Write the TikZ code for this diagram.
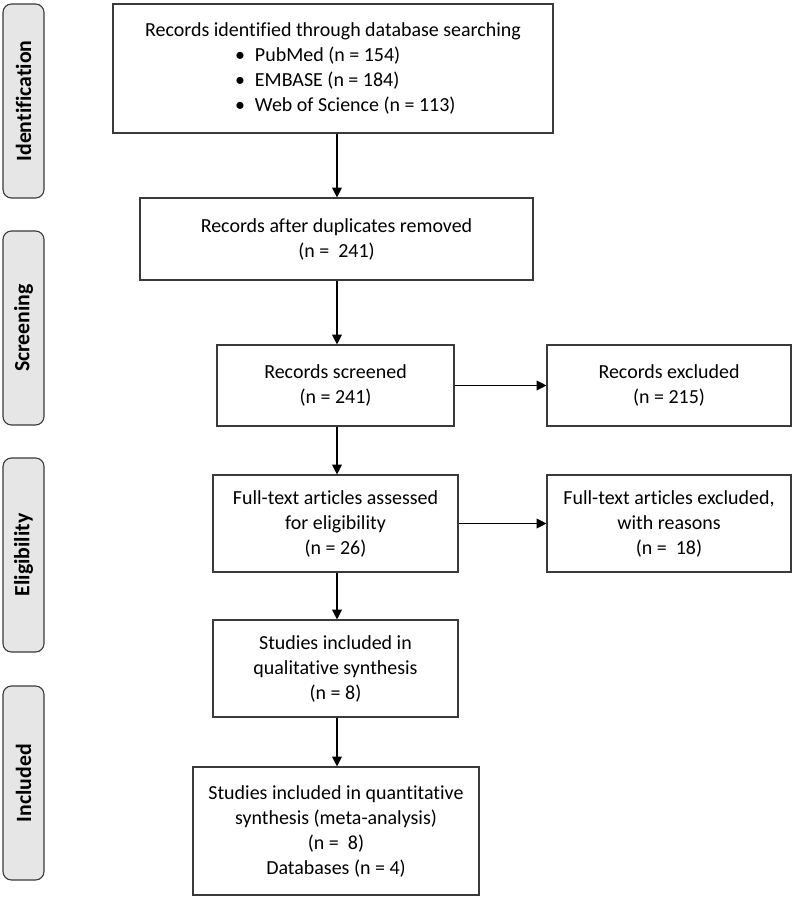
\documentclass[tikz,border=0pt]{standalone}
\usepackage{fontspec}
\setmainfont{Carlito}[Ligatures={NoCommon}]
\usepackage{tikz}
\usetikzlibrary{arrows.meta}

\definecolor{tabgray}{HTML}{E6E6E6}
\definecolor{linegray}{HTML}{3A3A3A}

\newcommand{\bitem}[1]{\hspace*{0.55cm}\makebox[5.45cm][l]{\makebox[0.5cm][l]{\textbullet}#1}}

\tikzset{
	box/.style={draw=linegray, line width=0.8pt, align=center, inner sep=0pt,
		font=\fontsize{14.2}{17.8}\selectfont},
	phase/.style={draw=linegray, fill=tabgray, line width=0.8pt, rounded corners=6pt,
		rotate=90, minimum width=4.85cm, minimum height=1.025cm, inner sep=0pt,
		font=\fontsize{15.5}{18}\selectfont\bfseries},
	arr/.style={-{Triangle[length=7pt,width=7pt]}, line width=0.8pt, black}
}

\begin{document}
\begin{tikzpicture}
	\useasboundingbox (0,0) rectangle (19.925,-22.5);
	\coordinate (col) at (8.425,0);
	% phase tabs on the left
	\node[phase] (tabid) at (0.5875,-2.525) {Identification};
	\node[phase] (tabsc) at (0.5875,-8.2) {Screening};
	\node[phase] (tabel) at (0.5875,-13.875) {Eligibility};
	\node[phase] (tabin) at (0.5875,-19.575) {Included};

	% main column
	\node[box, minimum width=11cm, minimum height=3.225cm] (found) at (8.325,-1.7125)
		{Records identified through database searching\\
		 \bitem{PubMed (n = 154)}\\
		 \bitem{EMBASE (n = 184)}\\
		 \bitem{Web of Science (n = 113)}};
	\node[box, minimum width=9.825cm, minimum height=2.05cm] (dedup) at (8.4125,-5.975)
		{Records after duplicates removed\\(n =\ \ 241)};
	\node[box, minimum width=5.925cm, minimum height=2.025cm] (screened) at (8.3875,-9.6375)
		{Records screened\\(n = 241)};
	\node[box, minimum width=6.125cm, minimum height=2.425cm] (fulltext) at (8.3875,-13.0875)
		{Full-text articles assessed\\for eligibility\\(n = 26)};
	\node[box, minimum width=6.125cm, minimum height=2.425cm] (quali) at (8.3875,-16.7125)
		{Studies included in\\qualitative synthesis\\(n = 8)};
	\node[box, minimum width=7.15cm, minimum height=3.2cm] (quanti) at (8.4,-20.775)
		{Studies included in quantitative\\synthesis (meta-analysis)\\(n =\ \ 8)\\Databases (n = 4)};

	% excluded column
	\node[box, minimum width=6.1cm, minimum height=2.025cm] (excl) at (16.725,-9.6375)
		{Records excluded\\(n = 215)};
	\node[box, minimum width=6.1cm, minimum height=2.425cm] (exclft) at (16.725,-13.0875)
		{Full-text articles excluded,\\with reasons\\(n =\ \ 18)};

	% arrows
	\draw[arr] (found.south -| col) -- (dedup.north -| col);
	\draw[arr] (dedup.south -| col) -- (screened.north -| col);
	\draw[arr] (screened.south -| col) -- (fulltext.north -| col);
	\draw[arr] (fulltext.south -| col) -- (quali.north -| col);
	\draw[arr] (quali.south -| col) -- (quanti.north -| col);
	\draw[arr] (screened.east) -- (excl.west);
	\draw[arr] (fulltext.east) -- (exclft.west);
\end{tikzpicture}
\end{document}
